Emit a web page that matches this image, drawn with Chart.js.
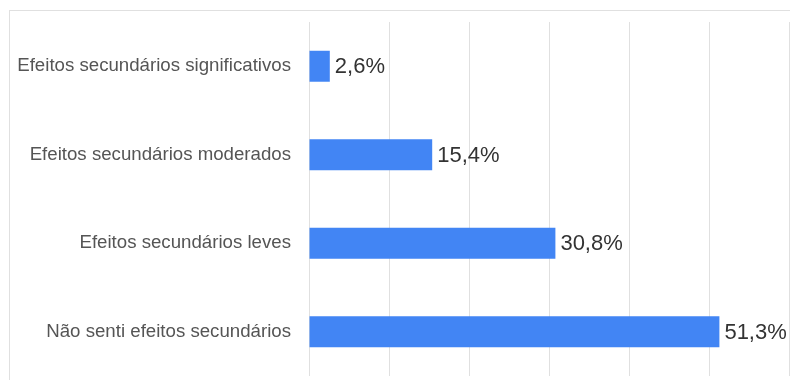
<!DOCTYPE html>
<html>
<head>
<meta charset="utf-8">
<script src="https://cdn.jsdelivr.net/npm/chart.js@4"></script>
<style>
  html, body { margin: 0; padding: 0; background: #fff; overflow: hidden; }
  #frame {
    position: absolute; left: 9px; top: 10px; width: 900px; height: 500px;
    border-top: 1px solid #e0e0e0; border-left: 1px solid #e0e0e0;
  }
  #wrap { position: absolute; left: 0; top: 0; width: 790px; height: 380px; }
</style>
</head>
<body>
<div id="frame"></div>
<div id="wrap"><canvas id="chart-efeitos"></canvas></div>
<script>
const categorias = [
  "Efeitos secundários significativos",
  "Efeitos secundários moderados",
  "Efeitos secundários leves",
  "Não senti efeitos secundários",
];
const percentagens = [2.6, 15.4, 30.8, 51.3];

// escreve o valor ao lado de cada barra, com vírgula decimal
const rotulosValor = {
  id: "rotulosValor",
  afterDatasetsDraw(chart) {
    const ctx = chart.ctx;
    const meta = chart.getDatasetMeta(0);
    ctx.save();
    ctx.font = "22px 'Liberation Sans', Arial, sans-serif";
    ctx.fillStyle = "#333";
    ctx.textAlign = "left";
    ctx.textBaseline = "middle";
    meta.data.forEach((bar, i) => {
      const txt = percentagens[i].toFixed(1).replace(".", ",") + "%";
      ctx.fillText(txt, bar.x + 5, bar.y + 1);
    });
    ctx.restore();
  },
};

const grafico = new Chart(document.querySelector("#chart-efeitos").getContext("2d"), {
  type: "bar",
  data: {
    labels: categorias,
    datasets: [
      {
        data: percentagens,
        backgroundColor: "#4285f4",
        barPercentage: 0.35,
        categoryPercentage: 1,
      },
    ],
  },
  options: {
    indexAxis: "y",
    responsive: true,
    maintainAspectRatio: false,
    animation: false,
    layout: { padding: { top: 22, bottom: 4, left: 0, right: 1 } },
    plugins: { legend: { display: false }, tooltip: { enabled: false } },
    scales: {
      x: {
        min: 0,
        max: 60,
        ticks: { display: false, stepSize: 10 },
        grid: { color: "#e0e0e0", lineWidth: 1, drawTicks: false },
        border: { display: false },
        afterFit: (s) => {
          s.height = 0;
          s.paddingLeft = s.paddingRight = 0;
        },
      },
      y: {
        ticks: {
          color: "#555",
          padding: 18,
          font: { family: "'Liberation Sans', Arial, sans-serif", size: 18.67 },
        },
        grid: { display: false, drawTicks: false },
        border: { display: false },
        afterFit: (s) => {
          s.width = 309;
          s.paddingTop = s.paddingBottom = 0;
        },
      },
    },
  },
  plugins: [rotulosValor],
});
</script>
</body>
</html>
